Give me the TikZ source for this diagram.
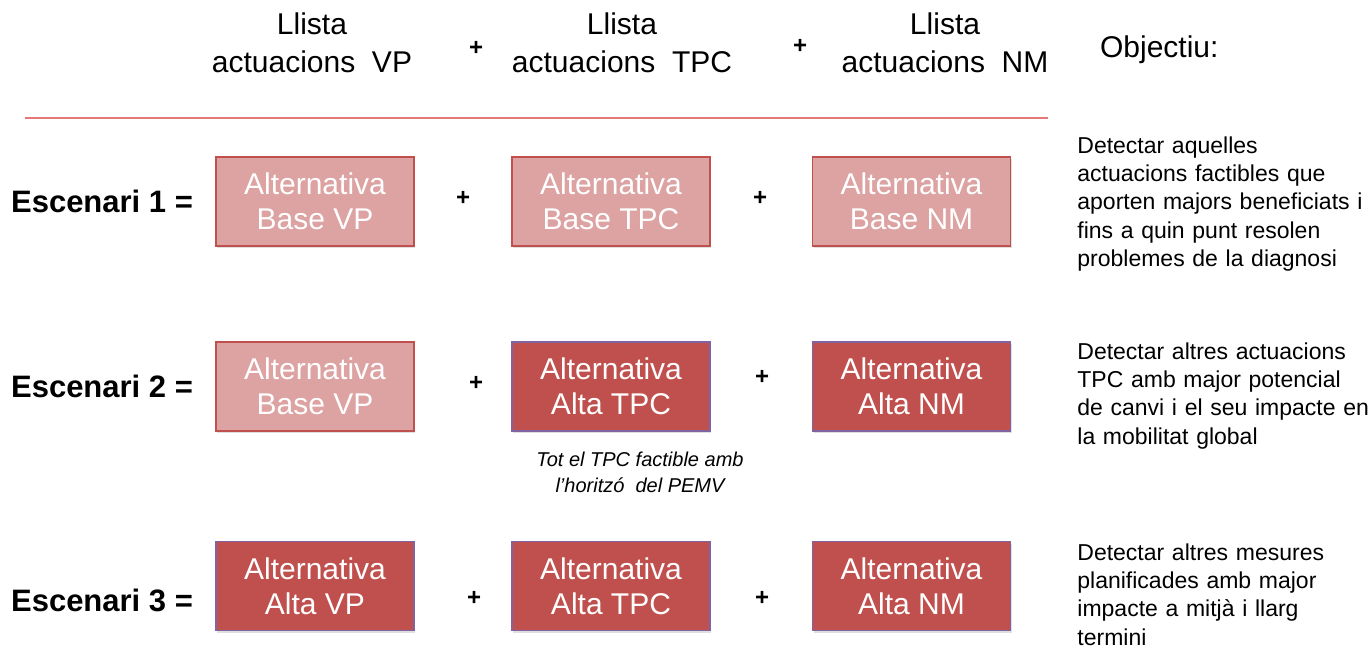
\documentclass[tikz,border=0pt]{standalone}
\usepackage{fontspec}
\setmainfont{Liberation Sans}
\usetikzlibrary{shadows}

\definecolor{palered}{RGB}{221,162,162}
\definecolor{darkred}{RGB}{192,80,77}
\definecolor{edgepurple}{RGB}{128,100,162}
\definecolor{linered}{RGB}{228,120,118}

\tikzset{
  altbase/.style={draw=darkred, fill=palered, line width=0.6pt, text=white,
    minimum width=99pt, minimum height=44.5pt, align=center,
    font=\fontsize{15}{17.5}\selectfont,
    drop shadow={opacity=0.25, shadow xshift=0.6pt, shadow yshift=-1pt}},
  altalta/.style={altbase, draw=edgepurple, fill=darkred},
  header/.style={align=center, font=\fontsize{15}{19}\selectfont},
  plus/.style={font=\fontsize{12}{12}\selectfont\bfseries},
  scen/.style={anchor=east, font=\fontsize{15.5}{18}\selectfont\bfseries},
  goal/.style={anchor=north west, align=left, text width=150pt, inner sep=0pt,
    font=\fontsize{11.5}{14.2}\selectfont}
}

\begin{document}
\begin{tikzpicture}[x=0.5pt,y=-0.5pt]
  \useasboundingbox (0,0) rectangle (1368,649);
  % column headers
  \node[header] (hvp) at (312,43) {Llista\\actuacions~ VP};
  \node[header] (htpc) at (622,43) {Llista\\actuacions~ TPC};
  \node[header] (hnm) at (945,43) {Llista\\actuacions~ NM};
  \node[plus] (hp1) at (476,48) {+};
  \node[plus] (hp2) at (800,46) {+};
  \node[header, anchor=west] (hobj) at (1093,50) {Objectiu:};
  \draw[color=linered, line width=1pt] (25,118) -- (1048,118);
  % escenari 1
  \node[scen] (e1) at (200,201) {Escenari 1 =};
  \node[altbase] (b1vp) at (315,201.5) {Alternativa\\Base VP};
  \node[plus] (p11) at (463,198) {+};
  \node[altbase] (b1tpc) at (611,201.5) {Alternativa\\Base TPC};
  \node[plus] (p12) at (760,198) {+};
  \node[altbase] (b1nm) at (911.5,201.5) {Alternativa\\Base NM};
  \node[goal] (g1) at (1077,136) {Detectar aquelles\\actuacions factibles que\\aporten majors beneficiats i\\fins a quin punt resolen\\problemes de la diagnosi};
  % escenari 2
  \node[scen] (e2) at (200,386) {Escenari 2 =};
  \node[altbase] (b2vp) at (315,386.5) {Alternativa\\Base VP};
  \node[plus] (p21) at (476,383) {+};
  \node[altalta] (b2tpc) at (611,386.5) {Alternativa\\Alta TPC};
  \node[plus] (p22) at (762,377) {+};
  \node[altalta] (b2nm) at (911.5,386.5) {Alternativa\\Alta NM};
  \node[align=center, font=\fontsize{10}{13}\selectfont\itshape] (nota) at (640,472) {Tot el TPC factible amb\\l’horitzó~ del PEMV};
  \node[goal] (g2) at (1077,342) {Detectar altres actuacions\\TPC amb major potencial\\de canvi i el seu impacte en\\la mobilitat global};
  % escenari 3
  \node[scen] (e3) at (200,600) {Escenari 3 =};
  \node[altalta] (b3vp) at (315,586) {Alternativa\\Alta VP};
  \node[plus] (p31) at (474,598) {+};
  \node[altalta] (b3tpc) at (611,586) {Alternativa\\Alta TPC};
  \node[plus] (p32) at (762,598) {+};
  \node[altalta] (b3nm) at (911.5,586) {Alternativa\\Alta NM};
  \node[goal] (g3) at (1077,543) {Detectar altres mesures\\planificades amb major\\impacte a mitjà i llarg\\termini};
\end{tikzpicture}
\end{document}
